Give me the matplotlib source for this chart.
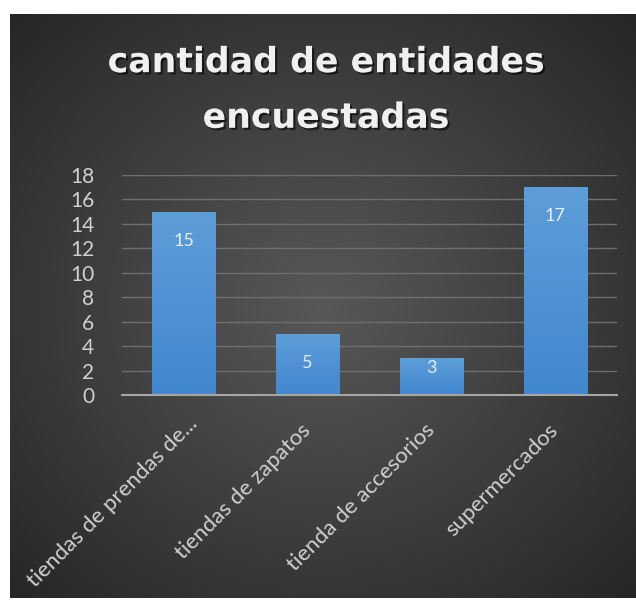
import numpy as np
import matplotlib
matplotlib.use("Agg")
import matplotlib.pyplot as plt
import matplotlib.patheffects as pe
import matplotlib.transforms as mtransforms
from matplotlib.colors import LinearSegmentedColormap

categories = ["tiendas de prendas de...", "tiendas de zapatos", "tienda de accesorios", "supermercados"]
values = [15, 5, 3, 17]
yticks = [0, 2, 4, 6, 8, 10, 12, 14, 16, 18]
title = "cantidad de entidades\nencuestadas"

W, H = 636, 605
fig = plt.figure(figsize=(W / 100, H / 100), dpi=100)
fig.patch.set_facecolor("white")

# dark panel with radial gradient
px0, px1, py0, py1 = 10, 636, 14, 598
bg = fig.add_axes([px0 / W, 1 - py1 / H, (px1 - px0) / W, (py1 - py0) / H])
yy, xx = np.mgrid[0:1:300j, 0:1:300j]
r = np.sqrt(((xx - 0.5) / 0.75) ** 2 + ((yy - 0.5) / 0.75) ** 2)
c0 = np.array([0x58, 0x58, 0x58]) / 255
c1 = np.array([0x26, 0x26, 0x26]) / 255
t = np.clip(r / 0.95, 0, 1)[..., None]
img = c0 * (1 - t) + c1 * t
bg.imshow(img, extent=[0, 1, 0, 1], aspect="auto", origin="lower")
bg.set_xlim(0, 1); bg.set_ylim(0, 1)
bg.axis("off")

ax_h_px = 220
ax = fig.add_axes([122 / W, 1 - 395 / H, 495 / W, ax_h_px / H])
ax.set_facecolor("none")
x = np.arange(len(categories))
bars = ax.bar(x, values, width=0.51, color="#5b9bd5", zorder=3)
ax.set_xlim(-0.5, len(categories) - 0.5)
ax.set_ylim(0, 18)
ax.set_yticks(yticks)
ax.set_yticklabels([str(v) for v in yticks], fontsize=15, color="#d0d0d0", family="Lato")
ax.set_xticks(x)
ax.set_xticklabels(categories, rotation=45, ha="right", va="center", rotation_mode="anchor",
                   fontsize=16, color="#d0d0d0", family="Lato")
ax.tick_params(axis="x", length=0, pad=23)
ax.tick_params(axis="y", length=0, pad=20)
# first (truncated) label sits a little further right in the reference
lbl0 = ax.get_xticklabels()[0]
lbl0.set_transform(lbl0.get_transform() + mtransforms.ScaledTranslation(10 / 100, 6 / 100, fig.dpi_scale_trans))
for s in ["top", "right", "left"]:
    ax.spines[s].set_visible(False)
ax.spines["bottom"].set_color("#a6a6a6")
ax.spines["bottom"].set_linewidth(1.5)
ax.spines["bottom"].set_zorder(4)
ax.yaxis.grid(True, color="#6e6e6e", linewidth=1.0, zorder=0)
ax.set_axisbelow(True)

grad = np.linspace(0, 1, 100)[:, None]
cmap = LinearSegmentedColormap.from_list("b", ["#4288cf", "#5d9dd8"])
px_per_unit = ax_h_px / 18
for b, v in zip(bars, values):
    bx, bw, bh = b.get_x(), b.get_width(), b.get_height()
    im = ax.imshow(grad, extent=[bx, bx + bw, 0, bh], origin="lower", cmap=cmap,
                   aspect="auto", zorder=3.5)
    im.set_clip_path(b)
    off_px = min(29, bh * px_per_unit - 27)
    ax.annotate(str(v), (bx + bw / 2, bh), xytext=(0, -off_px * 0.72), textcoords="offset points",
                ha="center", va="center", fontsize=13, color="#e8eef5", family="Lato",
                zorder=5)
ax.set_xlim(-0.5, len(categories) - 0.5)
ax.set_ylim(0, 18)

fig.text(326 / W, 1 - 90 / H, title, ha="center", va="center", fontsize=25,
         fontweight="bold", color="#f0f0f0", family="DejaVu Sans", linespacing=1.8,
         path_effects=[pe.withSimplePatchShadow(offset=(1.5, -1.5), shadow_rgbFace="black", alpha=0.6)])

fig.savefig("out.png", dpi=100, facecolor="white")
